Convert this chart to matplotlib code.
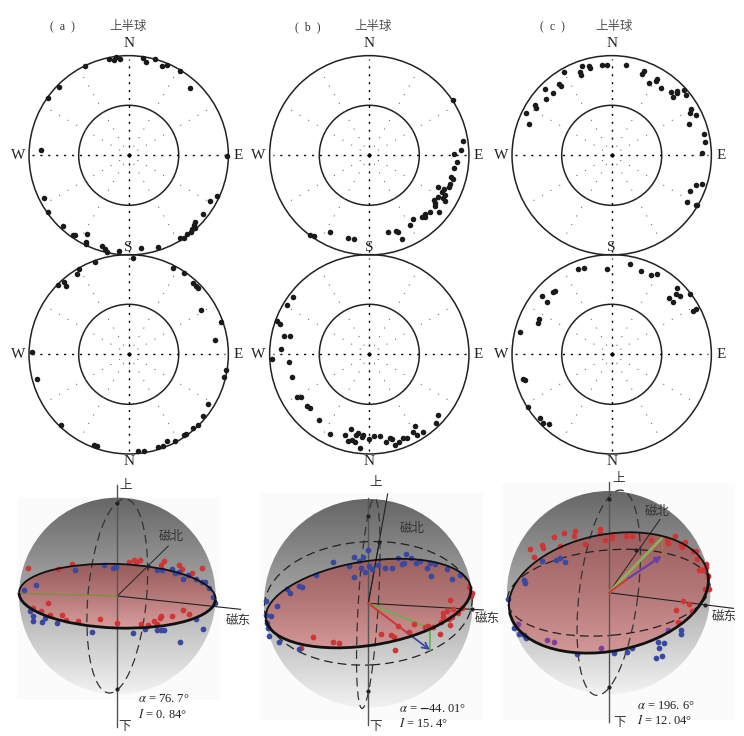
import numpy as np
import matplotlib
matplotlib.use("Agg")
import matplotlib.pyplot as plt
from matplotlib.colors import LinearSegmentedColormap
from matplotlib.patches import Arc, Circle, Ellipse, Rectangle

plt.rcParams['font.family'] = ['Liberation Serif', 'Noto Sans CJK SC', 'DejaVu Sans']
plt.rcParams['mathtext.fontset'] = 'stix'

W, H = 744, 736

# stereonet points (east, north), outer circle radius = 300
a_up = [(-58,289),(-44,287),(-38,294),(-25,290),(42,293),(52,281),(79,289),(101,269),(115,271),
        (153,254),(185,202),(-131,269),(-210,204),(-243,171),(-263,15),(296,-1),(-255,-127),
        (-241,-170),(-197,-213),(-168,-238),(-160,-239),(-126,-235),(-127,-261),(-127,-265),
        (-80,-272),(-72,-282),(-64,-289),(-30,-286),(37,-279),(87,-274),(265,-122),(244,-137),
        (224,-177),(198,-200),(197,-208),(189,-220),(188,-229),(200,-219),(175,-237),(165,-248),
        (155,-247)]
a_down = [(14,288),(-101,277),(-150,257),(-155,242),(-195,217),(-189,206),(-212,208),(132,258),
          (167,244),(193,215),(201,206),(208,200),(217,133),(276,97),(259,44),(-291,7),(291,-46),
          (285,-67),(-275,-75),(239,-148),(223,-186),(208,-213),(194,-220),(172,-239),(167,-241),
          (138,-261),(115,-260),(103,-276),(89,-278),(45,-289),(27,-289),(-204,-211),(-103,-271),
          (-96,-275)]
b_up = [(250,167),(280,44),(276,16),(254,3),(263,-19),(254,-38),(245,-64),(252,-70),(241,-86),
        (240,-94),(205,-96),(225,-100),(219,-111),(226,-119),(205,-124),(220,-129),(195,-134),
        (228,-138),(197,-144),(198,-151),(210,-170),(182,-171),(167,-177),(158,-184),(168,-184),
        (130,-190),(122,-208),(56,-231),(79,-227),(87,-230),(99,-252),(-118,-231),(-177,-239),
        (-165,-242),(-63,-249),(-47,-252)]
b_down = [(-228,172),(-248,147),(-276,100),(-267,90),(-255,54),(-238,56),(-266,16),(-292,-15),
          (-242,-23),(-232,-68),(-217,-127),(-205,-127),(-188,-155),(-178,-160),(-151,-198),
          (-117,-238),(-73,-242),(-56,-223),(-63,-260),(-51,-256),(-43,-264),(-41,-242),(-34,-236),
          (-23,-249),(-18,-242),(-29,-280),(-1,-253),(15,-246),(33,-246),(50,-264),(62,-251),
          (67,-254),(76,-271),(90,-262),(101,-251),(114,-251),(130,-233),(138,-215),(143,-242),
          (160,-233),(199,-207),(205,-181)]
c_up = [(-257,127),(-247,95),(-231,151),(-228,141),(-200,200),(-197,170),(-176,187),(-159,214),
        (-151,209),(-142,250),(-96,250),(-93,240),(-89,267),(-69,269),(-66,263),(-30,272),(-13,270),
        (42,271),(96,252),(92,244),(113,218),(136,229),(133,224),(147,203),(178,190),(196,194),
        (195,188),(184,176),(218,196),(224,181),(239,139),(235,128),(253,122),(231,94),(278,63),
        (280,39),(271,7),(272,-86),(253,-90),(235,-106),(227,-139),(252,-148),(255,-148)]
c_down = [(-102,255),(-83,260),(-14,257),(56,270),(87,250),(118,238),(135,240),(197,198),(192,182),
          (206,176),(172,169),(184,157),(234,181),(252,136),(245,131),(-209,176),(-193,158),
          (-177,188),(-170,190),(-217,107),(-220,94),(-276,66),(-267,-75),(-261,-77),(-252,-157),
          (-214,-192),(-207,-206),(-189,-209)]

# sphere points, relative to sphere centre
a_red = [(-269,85),(-177,80),(-137,95),(35,103),(50,108),(55,103),(67,107),(140,106),(130,92),
         (184,93),(194,82),(255,85),(223,68),(-208,-21),(-254,-37),(-230,-44),(-202,-58),(-166,-58),
         (-155,-72),(-118,-75),(-52,-70),(-2,-80),(71,-83),(93,-86),(111,-76),(120,-83),(128,-67),
         (132,-59),(163,-61),(198,-43),(216,-55)]
a_blue = [(-128,79),(-41,94),(-12,84),(-4,87),(118,77),(133,78),(164,80),(172,69),(184,71),(196,51),
          (212,62),(236,52),(254,43),(262,42),(274,23),(286,-2),(294,-20),(-280,18),(-244,33),
          (-262,-45),(-254,-60),(-254,-76),(-226,-78),(-217,-67),(-180,-82),(-76,-109),(47,-110),
          (84,-98),(120,-103),(130,-103),(139,-102),(187,-137),(235,-70),(257,-98)]
b_red = [(-201,-133),(-166,-100),(-106,-115),(-87,-118),(38,-93),(67,-94),(76,-100),(81,-140),
         (88,-67),(122,-85),(137,-61),(169,-71),(179,-68),(195,-71),(216,-91),(218,-55),(223,-30),
         (223,-42),(235,-24),(241,-46),(250,-42),(244,-66),(246,9),(255,-18),(270,-30),(282,-15),
         (303,48),(310,30),(308,22)]
b_blue = [(-105,125),(-42,138),(-17,140),(-1,160),(-28,128),(-57,113),(-21,106),(-11,95),(3,113),
          (10,102),(28,116),(49,105),(70,105),(88,135),(102,117),(108,120),(113,148),(129,137),
          (142,122),(155,128),(175,106),(185,122),(200,118),(236,103),(275,86),(251,72),(188,82),
          (-42,78),(-157,86),(-243,43),(-235,30),(-208,51),(-199,49),(-306,6),(-275,-8),(-308,-36),
          (-293,-39),(-305,-60),(-300,-75),(-297,-97),(-267,-115),(-208,-137)]
c_red = [(-237,130),(-224,108),(-201,143),(-198,135),(-163,166),(-134,178),(-105,170),(-100,184),
         (-146,140),(-71,146),(-26,190),(-25,178),(-12,158),(9,171),(10,163),(51,169),(69,170),
         (126,157),(199,171),(176,160),(179,148),(217,146),(219,136),(230,153),(254,124),(261,125),
         (265,100),(291,86),(291,76),(290,68),(271,68),(280,69),(297,51),(289,10),(301,12),(224,-25),
         (242,-35),(202,-53),(250,-56),(208,-88)]
c_blue = [(-201,95),(-159,97),(-146,104),(-131,93),(-255,38),(-251,30),(-301,-19),(-284,-107),
          (-269,-125),(-253,-127),(-248,-136),(-95,-184),(17,-182),(54,-179),(70,-165),(147,-147),
          (165,-152),(151,-165),(161,-189),(142,-195),(216,-112),(217,-123)]
c_purple = [(-273,-95),(-184,-141),(-165,-149),(-22,-167),(179,-112)]

alpha_labels = [r"$\alpha$ = 76. 7°", r"$\alpha$ = $\mathbf{-}$44. 01°", r"$\alpha$ = 196. 6°"]
inc_labels = [r"$I$ = 0. 84°", r"$I$ = 15. 4°", r"$I$ = 12. 04°"]
panel_labels = ["(  a  )", "(  b  )", "(  c  )"]

sphere_cmap = LinearSegmentedColormap.from_list("sph", ["#666666", "#aaaaaa", "#f2f2f2"])
plane_cmap = LinearSegmentedColormap.from_list("plane", ["#935858", "#b57878", "#dba0a0"])

fig = plt.figure(figsize=(W / 100, H / 100), dpi=100)


def px_axes(cx, cy, half):
    # axes centred on a pixel position, 3 data units per pixel
    ax = fig.add_axes([(cx - half) / W, 1 - (cy + half) / H, 2 * half / W, 2 * half / H])
    ax.set_xlim(-half * 3, half * 3)
    ax.set_ylim(-half * 3, half * 3)
    ax.axis("off")
    ax.patch.set_alpha(0)
    return ax


def stereonet(cx, cy, pts, top_lab, top_y, bot_lab, bot_y):
    ax = px_axes(cx, cy, 118)
    ax.add_patch(Circle((0, 0), 299, fc="none", ec="#222222", lw=1.1))
    ax.add_patch(Circle((0, 0), 150, fc="none", ec="#222222", lw=1.1))
    for deg in range(0, 360, 30):
        t = np.deg2rad(deg)
        if deg % 90 == 0:
            ax.plot([0, 290 * np.cos(t)], [0, 290 * np.sin(t)], color="k", lw=1.0, ls=(0, (1.5, 4.2)))
        else:
            ax.plot([0, 290 * np.cos(t)], [0, 290 * np.sin(t)], color="#666666", lw=0.7, ls=(0, (1.2, 9)))
    ax.plot(0, 0, "o", color="k", ms=1.8)
    p = np.array(pts)
    ax.scatter(p[:, 0], p[:, 1], s=16, color="#1a1a1a", lw=0, zorder=3, clip_on=False)
    kw = dict(ha="center", va="center", fontsize=11, color="#222222")
    if top_lab:
        ax.text(0, top_y, top_lab, **kw)
    ax.text(0, bot_y, bot_lab, **kw)
    ax.text(-332, 0, "W", **kw)
    ax.text(328, 0, "E", **kw)
    return ax


def sphere(cx, cy, r, box, plane, horizon, meridian, north, east, reds, blues,
           up_xy, down_xy, north_xy, east_xy, a_xy, i_xy, a_txt, i_txt):
    ax = px_axes(cx, cy, 135)
    ax.add_patch(Rectangle((box[0], box[1]), box[2], box[3], fc="#fbfbfb", ec="none", zorder=0))
    grad = np.linspace(0, 1, 256).reshape(-1, 1)
    im = ax.imshow(grad, extent=(-r, r, -r, r), origin="upper", cmap=sphere_cmap, aspect="auto", zorder=1)
    im.set_clip_path(Circle((0, 0), r, transform=ax.transData))
    pa, pb, pang = plane
    half_frac = 0.5 * (pb + pa * abs(np.sin(np.deg2rad(pang)))) / pa
    pim = ax.imshow(grad, extent=(-pa, pa, -pa, pa), origin="upper", cmap=plane_cmap, aspect="auto",
                    zorder=2, vmin=0.5 - half_frac, vmax=0.5 + half_frac)
    pim.set_clip_path(Ellipse((0, 0), 2 * pa, 2 * pb, angle=pang, transform=ax.transData))
    ax.set_xlim(-405, 405)
    ax.set_ylim(-405, 405)
    if horizon is not None:
        ax.add_patch(Ellipse((0, 0), 2 * horizon[0], 2 * horizon[1], angle=horizon[2], fc="none", ec="#222222",
                             lw=0.9, ls=(0, (7, 4)), zorder=3))
    ax.add_patch(Ellipse((0, 0), 2 * meridian[0], 2 * meridian[1], angle=meridian[2], fc="none", ec="#333333",
                         lw=0.9, ls=(0, (7, 4)), zorder=3))
    ax.plot([0, 0], [up_xy[2], down_xy[2]], color="#555555", lw=1.0, zorder=3)
    ax.plot([0, north[0]], [0, north[1]], color="#222222", lw=0.7, zorder=3)
    ax.plot([0, east[0]], [0, east[1]], color="#222222", lw=0.8, zorder=3)
    ax.add_patch(Arc((0, 0), 2 * pa, 2 * pb, angle=pang, theta1=0, theta2=180, ec="#111111", lw=1.3, zorder=6))
    ax.add_patch(Arc((0, 0), 2 * pa, 2 * pb, angle=pang, theta1=180, theta2=360, ec="#111111", lw=2.0, zorder=6))
    ax.scatter(*np.array(reds).T, s=17, color="#cf3535", lw=0, zorder=5, clip_on=False)
    ax.scatter(*np.array(blues).T, s=17, color="#3b48a0", lw=0, zorder=5, clip_on=False)
    cjk = dict(ha="center", va="center", fontsize=9, color="#333333")
    ax.text(up_xy[0], up_xy[1], "上", **cjk)
    ax.text(down_xy[0], down_xy[1], "下", **cjk)
    ax.text(north_xy[0], north_xy[1], "磁北", **cjk)
    ax.text(east_xy[0], east_xy[1], "磁东", **cjk)
    ax.text(a_xy[0], a_xy[1], a_txt, ha="left", va="center", fontsize=9, color="#222222")
    ax.text(i_xy[0], i_xy[1], i_txt, ha="left", va="center", fontsize=9, color="#222222")
    return ax


net_x = [128.7, 369.3, 611.7]
net_up = [a_up, b_up, c_up]
net_down = [a_down, b_down, c_down]
title_x = [62, 308, 552]
upper_x = [128, 372.7, 614]
for i in range(3):
    stereonet(net_x[i], 155.3, net_up[i], "N", 336, "S", -276)
    stereonet(net_x[i], 354.3, net_down[i], "", 0, "N", -322)
    fig.text(title_x[i] / W, 1 - 27 / H, panel_labels[i], ha="center", va="center", fontsize=8.5, color="#333333")
    fig.text(upper_x[i] / W, 1 - 27 / H, "上半球", ha="center", va="center", fontsize=9, color="#555555")

# (a)
ax = sphere(117.3, 596, 295, (-302, -312, 610, 610), (295, 96, -2), None, (292, 88, 85),
            (153, 150), (370, -40), a_red, a_blue,
            (26, 330, 333), (22, -392, -392), (163, 176), (362, -74),
            (62, -310), (62, -354), alpha_labels[0], inc_labels[0])
ax.plot([0, -292], [0, 8], color="#7f8f3a", lw=1.0, zorder=4)
ax.plot([0, 0, 91], [278, -279, 90], "o", color="#222222", ms=2, zorder=6)

# (b)
ax = sphere(368.3, 603.3, 313, (-325, -350, 670, 680), (311, 126, 9), (312, 185, 3), (316, 30, 86.6),
            (33, 183), (345, -20), b_red, b_blue,
            (22, 362, 315), (22, -372, -365), (132, 224), (357, -48),
            (92, -318), (92, -362), alpha_labels[1], inc_labels[1])
ax.plot([0, 58], [0, 328], color="#222222", lw=0.8, zorder=3)
ax.plot([0, 185, 185], [0, -75, -140], color="#66b04a", lw=1.2, zorder=4)
ax.plot([0, 115], [0, -87], color="#cf3535", lw=1.4, zorder=4)
ax.annotate("", xy=(185, -140), xytext=(115, -87), zorder=4,
            arrowprops=dict(arrowstyle="->", color="#3b48a0", lw=1.3, mutation_scale=11, shrinkA=0, shrinkB=0))
ax.plot([0, 33, 0, 310], [262, 183, -262, -17], "o", color="#222222", ms=2, zorder=6)

# (c)
ax = sphere(608.7, 592.7, 305, (-320, -382, 700, 710), (303, 175, 11), (305, 128, 5), (310, 88, 83),
            (154, 220), (374, -47), c_red, c_blue,
            (31, 340, 333), (31, -390, -387), (144, 243), (347, -72),
            (84, -340), (84, -382), alpha_labels[2], inc_labels[2])
ax.scatter(*np.array(c_purple).T, s=17, color="#7d3f9c", lw=0, zorder=5)
ax.plot([0, 159], [0, 163], color="#8fae5a", lw=2.0, zorder=4)
ax.plot([159, 159], [163, 110], color="#a07c50", lw=0.9, zorder=4)
ax.plot([0, 59], [0, 43], color="#cf3535", lw=1.4, zorder=4)
ax.annotate("", xy=(159, 110), xytext=(59, 43), zorder=4,
            arrowprops=dict(arrowstyle="-|>", color="#6a3fa8", lw=1.6, mutation_scale=9, shrinkA=0, shrinkB=0))
ax.plot([0, 0, 83, 289], [280, -283, 128, -37], "o", color="#222222", ms=2, zorder=6)

fig.savefig("out.png", dpi=100)
